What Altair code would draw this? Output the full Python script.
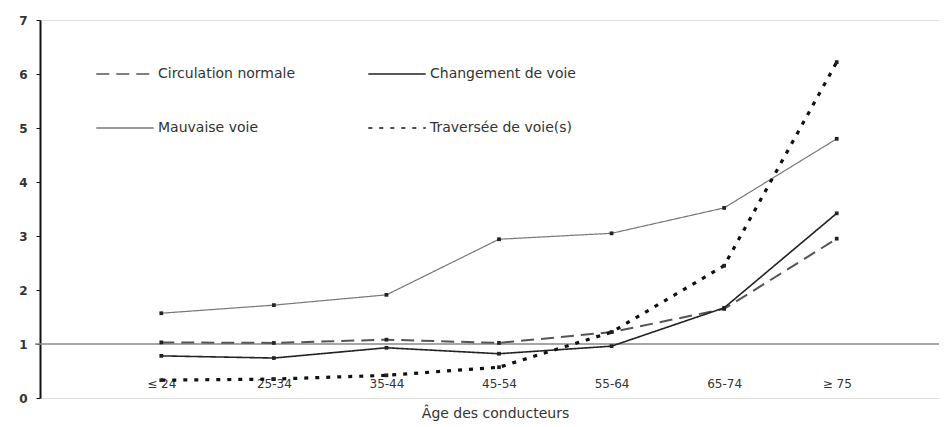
import altair as alt
import pandas as pd

ages = ["≤ 24", "25-34", "35-44", "45-54", "55-64", "65-74", "≥ 75"]
series_names = ["Circulation normale", "Mauvaise voie", "Changement de voie", "Traversée de voie(s)"]
circulation = [1.03, 1.02, 1.08, 1.02, 1.22, 1.65, 2.95]
mauvaise = [1.57, 1.72, 1.91, 2.94, 3.05, 3.52, 4.80]
changement = [0.78, 0.74, 0.93, 0.82, 0.96, 1.67, 3.42]
traversee = [0.33, 0.35, 0.42, 0.57, 1.22, 2.45, 6.22]
y_ticks = [0, 1, 2, 3, 4, 5, 6, 7]
reference_value = [1]

rows = []
for name, vals in zip(series_names, [circulation, mauvaise, changement, traversee]):
    for a, v in zip(ages, vals):
        rows.append({"age": a, "serie": name, "valeur": v})
df = pd.DataFrame(rows)
ref_df = pd.DataFrame({"ref": reference_value})

W, H = 899, 378
FONT = "DejaVu Sans"

x_enc = alt.X("age:N", sort=ages, scale=alt.Scale(type="point", range=[65, 853]),
              axis=alt.Axis(title="Âge des conducteurs", domain=False, ticks=False,
                            labelAngle=0, labelPadding=-20, labelFontSize=12,
                            labelColor="#333", labelFont=FONT,
                            titleFont=FONT, titleFontSize=14, titleFontWeight="normal",
                            titleColor="#333", titleY=15, titleBaseline="middle", titleX=455))
y_enc = alt.Y("valeur:Q", scale=alt.Scale(domain=[0, 7], nice=False),
              axis=alt.Axis(title=None, values=y_ticks, format="d", grid=False, domainColor="#111",
                            domainWidth=2, tickColor="#111", tickSize=4, tickWidth=1,
                            labelPadding=9, labelFontSize=12, labelFontWeight="bold",
                            labelFont=FONT, labelColor="#333"))

color_scale = alt.Scale(domain=series_names, range=["#555555", "#777777", "#222222", "#111111"])
dash_scale = alt.Scale(domain=series_names, range=[[13, 7], [1, 0], [1, 0], [4, 7]])

lines = alt.Chart(df).mark_line().encode(
    x=x_enc,
    y=y_enc,
    color=alt.Color("serie:N", scale=color_scale, sort=series_names, title=None,
                    legend=alt.Legend(orient="none", legendX=55, legendY=24, columns=2,
                                      symbolType="stroke", symbolSize=3300,
                                      symbolStrokeWidth=1.6,
                                      labelFont=FONT, labelFontSize=14, labelColor="#333",
                                      labelOffset=3, columnPadding=69, rowPadding=17,
                                      labelLimit=300)),
    strokeDash=alt.StrokeDash("serie:N", scale=dash_scale, sort=series_names, title=None),
    strokeWidth={"condition": [
        {"test": "datum.serie === 'Traversée de voie(s)'", "value": 3.2},
        {"test": "datum.serie === 'Circulation normale'", "value": 2},
        {"test": "datum.serie === 'Changement de voie'", "value": 1.6},
    ], "value": 1.2},
)

points = alt.Chart(df).mark_point(filled=True, shape="square", size=14, color="#222", opacity=1).encode(
    x=alt.X("age:N", sort=ages),
    y=alt.Y("valeur:Q"),
)

rule = alt.Chart(ref_df).mark_rule(color="#888", strokeWidth=1.5).encode(
    y=alt.Y("ref:Q"),
    x=alt.value(-5),
    x2=alt.value(W),
)

chart = alt.layer(rule, lines, points).properties(
    width=W, height=H,
    padding={"left": 32, "top": 12, "right": 0, "bottom": 28},
    autosize=alt.AutoSizeParams(type="none"),
).configure_view(stroke=None).configure(background="white")

chart.save("out.html", embed_options={"renderer": "svg", "actions": False})
